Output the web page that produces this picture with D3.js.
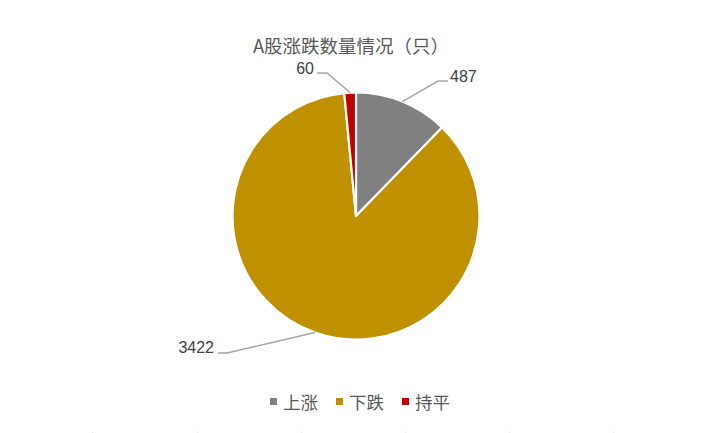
<!DOCTYPE html>
<html><head><meta charset="utf-8">
<script src="https://cdn.jsdelivr.net/npm/d3@7"></script>
<style>html,body{margin:0;padding:0;background:#fff;}svg{display:block;font-family:"Noto Sans CJK SC","Noto Sans",sans-serif;}</style>
</head><body>
<svg id="c" width="717" height="433"></svg>
<script>
const categories = ["上涨", "下跌", "持平"];
const values = [487, 3422, 60];
const colors = ["#808080", "#BF9000", "#C00000"];
const title = "A股涨跌数量情况（只）";

const svg = d3.select("#c");
const cx = 356, cy = 216, r = 123.5;

svg.append("text").attr("x", 351).attr("y", 53).attr("text-anchor", "middle")
  .attr("font-size", 18.5).attr("fill", "#595959").text(title);

const pie = d3.pie().sort(null).value(d => d)(values);
const arc = d3.arc().innerRadius(0).outerRadius(r);
const g = svg.append("g").attr("transform", `translate(${cx},${cy})`);
g.selectAll("path").data(pie).join("path")
  .attr("d", arc).attr("fill", (d, i) => colors[i])
  .attr("stroke", "#fff").attr("stroke-width", 2.2).attr("stroke-linejoin", "round");

const labelPos = [
  {bend: [438, 81], end: [448, 81], tx: 450, ty: 81.5, anchor: "start"},
  {bend: [227, 353], end: [218, 353], tx: 214, ty: 353, anchor: "end"},
  {bend: [327, 73], end: [317, 73], tx: 314, ty: 73.5, anchor: "end"}
];
pie.forEach((d, i) => {
  const a = (d.startAngle + d.endAngle) / 2;
  const ex = cx + r * Math.sin(a), ey = cy - r * Math.cos(a);
  const L = labelPos[i];
  svg.append("polyline")
    .attr("points", [[ex, ey], L.bend, L.end].map(p => p.join(",")).join(" "))
    .attr("fill", "none").attr("stroke", "#A6A6A6").attr("stroke-width", 1.5);
  svg.append("text").attr("x", L.tx).attr("y", L.ty).attr("text-anchor", L.anchor)
    .attr("font-family", "'Liberation Sans', Arial, sans-serif")
    .attr("font-size", 16).attr("fill", "#404040")
    .text(values[i]);
});

const legX = [270, 336, 402];
categories.forEach((c, i) => {
  svg.append("rect").attr("x", legX[i]).attr("y", 398).attr("width", 7).attr("height", 7)
    .attr("fill", colors[i]);
  svg.append("text").attr("x", legX[i] + 13).attr("y", 401.5).attr("dominant-baseline", "central")
    .attr("font-size", 17.5).attr("fill", "#595959").text(c);
});

[92, 197, 301, 405, 509, 613].forEach(x => {
  svg.append("rect").attr("x", x).attr("y", 431.5).attr("width", 1).attr("height", 1).attr("fill", "#D9D9D9");
});
</script>
</body></html>
